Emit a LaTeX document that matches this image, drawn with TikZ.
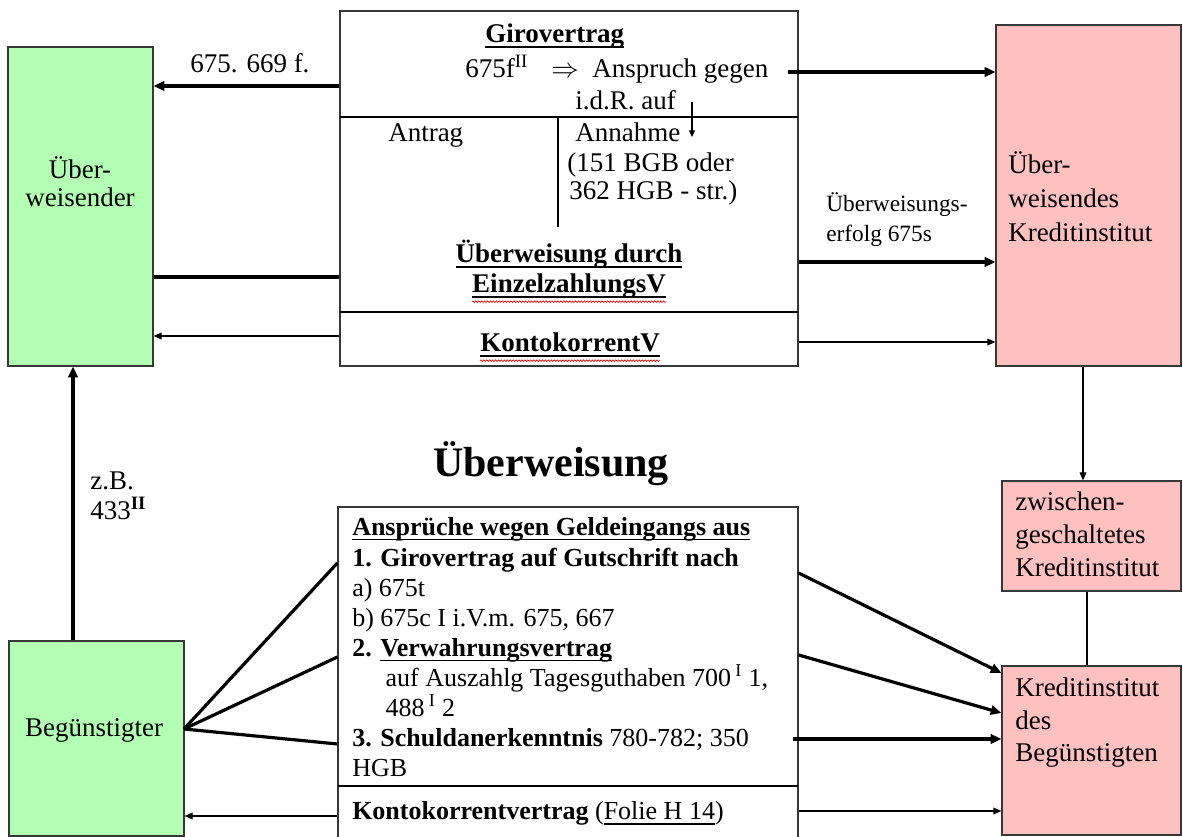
\documentclass[tikz,border=0pt]{standalone}
\usepackage{fontspec}
\setmainfont{Liberation Serif}
\usetikzlibrary{arrows.meta,fit,decorations.pathmorphing}
\definecolor{partygreen}{RGB}{179,255,179}
\definecolor{bankpink}{RGB}{255,192,192}
\definecolor{rim}{RGB}{55,55,55}
% underline at a fixed depth below the baseline
\newcommand\ulx[1]{\setbox0\hbox{#1}\rlap{\rule[-3.4pt]{\wd0}{1pt}}\box0}

\begin{document}
\begin{tikzpicture}[x=0.75pt,y=-0.75pt,
  box/.style={draw=rim, line width=0.9pt, inner sep=0pt},
  party/.style={box, fill=partygreen},
  bank/.style={box, fill=bankpink},
  frame/.style={box},
  txt/.style={inner sep=0pt, font=\fontsize{20.25}{23.25}\selectfont},
  small/.style={inner sep=0pt, font=\fontsize{19.5}{22.5}\selectfont},
  lbl/.style={inner sep=0pt, font=\fontsize{17.5}{22.5}\selectfont},
  heavy/.style={line width=2.4pt, -{Triangle[length=8pt,width=7pt]}},
  heavyline/.style={line width=2.4pt},
  light/.style={line width=0.9pt, -{Triangle[length=6pt,width=5pt]}},
  lightline/.style={line width=0.9pt},
  squiggle/.style={red!85!black, line width=0.5pt, decorate,
    decoration={snake, amplitude=0.6pt, segment length=2.2pt}}
]
\useasboundingbox (0,0) rectangle (1183,837);

% ---------- boxes ----------
\node[party, fit={(8,47) (153,366)}] (ueb) {};
\node[frame, fit={(340,11) (798,366)}] (giro) {};
\node[bank, fit={(996,25) (1181,366)}] (ubank) {};
\node[bank, fit={(1002,481) (1181,591)}] (zbank) {};
\node[bank, fit={(1002,666) (1181,835)}] (bbank) {};
\node[party, fit={(9,641) (184,836)}] (beg) {};
\node[frame, fit={(338,507) (798,845)}] (anspr) {};

% inner dividers of the contract boxes
\draw[lightline] (340,117) -- (798,117);
\draw[lightline] (558,117) -- (558,227);
\draw[lightline] (340,312) -- (798,312);
\draw[lightline] (338,786) -- (798,786);

% ---------- texts of the parties and banks (multi-line nodes sit on their last baseline) ----------
\node[txt, align=center, anchor=base, font=\fontsize{20.25}{21.5}\selectfont] (uebt) at (80,207) {Über-\\weisender};
\node[txt, anchor=base] (begt) at (94,737) {Begünstigter};
\node[txt, align=left, anchor=base west, font=\fontsize{20.25}{25.5}\selectfont] (ubankt) at (1008,242) {Über-\\weisendes\\Kreditinstitut};
\node[txt, align=left, anchor=base west, font=\fontsize{20.25}{24.75}\selectfont] (zbankt) at (1015,577) {zwischen-\\geschaltetes\\Kreditinstitut};
\node[txt, align=left, anchor=base west, font=\fontsize{20.25}{24.4}\selectfont] (bbankt) at (1015,762) {Kreditinstitut\\des\\Begünstigten};

% ---------- Girovertrag box ----------
\node[txt, anchor=base west] (gv) at (485,43) {\textbf{\ulx{Girovertrag}}};
\node[txt, anchor=base west] (par) at (465,78) {675f\textsuperscript{II}};
\node[txt, anchor=base west] (impl) at (551,78) {$\Rightarrow$};
\node[txt, anchor=base west] (ansp) at (592,78) {Anspruch gegen};
\node[txt, anchor=base west] (idr) at (575,110) {i.d.R. auf};
\node[txt, anchor=base west] (antrag) at (388,142) {Antrag};
\node[txt, anchor=base west] (annahme) at (575,142) {Annahme};
\node[txt, align=left, anchor=base west, font=\fontsize{20.25}{21}\selectfont] (annref) at (567,200) {(151 BGB oder\\\hspace*{1.5pt}362 HGB - str.)};
\node[txt, anchor=base] (ez1) at (569,263) {\textbf{\ulx{Überweisung durch}}};
\node[txt, anchor=base] (ez2) at (569,293) {\textbf{\ulx{EinzelzahlungsV}}};
\node[txt, anchor=base] (kk) at (570,352) {\textbf{\ulx{KontokorrentV}}};
\draw[squiggle] ([yshift=-6.5pt]ez2.base west) -- ([yshift=-6.5pt]ez2.base east);
\draw[squiggle] ([yshift=-6.5pt]kk.base west) -- ([yshift=-6.5pt]kk.base east);

\coordinate (auftop) at (692,102);
\coordinate (annend) at (692,137);
\draw[line width=0.8pt, -{Triangle[length=5pt,width=4.5pt]}] (auftop) -- (annend);

% ---------- title ----------
\node[inner sep=0pt, anchor=base, font=\fontsize{31.5}{36}\selectfont\bfseries] (title) at (551,477) {Überweisung};

% ---------- claims box ----------
\node[small, align=left, anchor=base west, font=\fontsize{19.5}{22.6}\selectfont] (claims) at (352,777) {%
\textbf{\ulx{Ansprüche wegen Geldeingangs aus}}\\
\textbf{1. Girovertrag auf Gutschrift nach}\\
a) 675t\\
b) 675c I i.V.m. 675, 667\\
\textbf{2. \ulx{Verwahrungsvertrag}}\\
\hspace*{25pt}auf Auszahlg Tagesguthaben 700\,\textsuperscript{I} 1,\\
\hspace*{25pt}488\,\textsuperscript{I} 2\\
\textbf{3. Schuldanerkenntnis} 780-782; 350\\
HGB};
\node[small, anchor=base west] (kkv) at (352,820) {\textbf{Kontokorrentvertrag} (\ulx{Folie H 14})};

% ---------- connectors, upper part ----------
\coordinate (r86) at (0,86);
\coordinate (r277) at (0,277);
\coordinate (r336) at (0,336);
\draw[heavy] (giro.west |- r86) -- (ueb.east |- r86);
\node[txt, anchor=base west] (l1) at (190,73) {675. 669 f.};
\draw[heavyline] (ueb.east |- r277) -- (giro.west |- r277);
\draw[light] (giro.west |- r336) -- (ueb.east |- r336);

\coordinate (s72) at (788,72);
\coordinate (r262) at (0,262);
\coordinate (r342) at (0,342);
\draw[heavy] (s72) -- (ubank.west |- s72);
\draw[heavy] (giro.east |- r262) -- (ubank.west |- r262);
\node[lbl, align=left, anchor=base west] (l2) at (826,242) {Überweisungs-\\erfolg 675s};
\draw[light] (giro.east |- r342) -- (ubank.west |- r342);

\coordinate (v1) at (1083,0);
\coordinate (v2) at (1087,0);
\draw[light] (ubank.south -| v1) -- (zbank.north -| v1);
\draw[lightline] (zbank.south -| v2) -- (bbank.north -| v2);

% ---------- connectors, lower part ----------
\coordinate (v73) at (73,0);
\draw[heavy] (beg.north -| v73) -- (ueb.south -| v73);
\node[txt, align=left, anchor=base west, font=\fontsize{20.25}{22.5}\selectfont] (l3) at (90,520) {z.B.\\433\textsuperscript{\textbf{II}}};

\coordinate (fan) at (184,729);
\coordinate (e1) at (0,563);
\coordinate (e2) at (0,657);
\coordinate (e3) at (0,744);
\coordinate (e4) at (0,816);
\draw[heavyline] (fan) -- (anspr.west |- e1);
\draw[heavyline] (fan) -- (anspr.west |- e2);
\draw[heavyline] (fan) -- (anspr.west |- e3);
\draw[light] (anspr.west |- e4) -- (beg.east |- e4);

\coordinate (o1) at (0,573);
\coordinate (o2) at (0,655);
\coordinate (o3) at (0,739);
\coordinate (o4) at (0,811);
\coordinate (i1) at (0,673);
\coordinate (i2) at (0,713);
\coordinate (s739) at (793,739);
\draw[heavy] (anspr.east |- o1) -- (bbank.west |- i1);
\draw[heavy] (anspr.east |- o2) -- (bbank.west |- i2);
\draw[heavy] (s739) -- (bbank.west |- o3);
\draw[light] (anspr.east |- o4) -- (bbank.west |- o4);
\end{tikzpicture}
\end{document}
